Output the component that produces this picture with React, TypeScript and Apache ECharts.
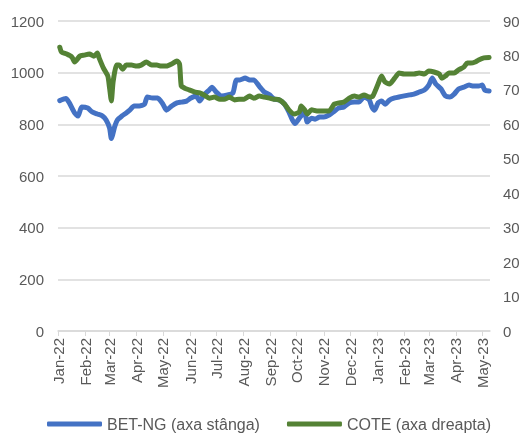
import React, { useEffect, useRef } from "react";
import * as echarts from "echarts";

const betDates = [
  "2022-01-03","2022-01-10","2022-01-14","2022-01-20","2022-01-24","2022-01-28","2022-02-04","2022-02-09","2022-02-15","2022-02-21","2022-02-25",
  "2022-03-01","2022-03-03","2022-03-07","2022-03-10","2022-03-15","2022-03-20","2022-03-24","2022-03-29","2022-04-04","2022-04-10","2022-04-13",
  "2022-04-19","2022-04-25","2022-05-01","2022-05-05","2022-05-11","2022-05-17","2022-05-22","2022-05-28","2022-06-02","2022-06-08","2022-06-12",
  "2022-06-17","2022-06-23","2022-06-26","2022-07-01","2022-07-07","2022-07-14","2022-07-20","2022-07-24","2022-07-28","2022-08-03","2022-08-08",
  "2022-08-13","2022-08-19","2022-08-25","2022-08-31","2022-09-05","2022-09-11","2022-09-17","2022-09-22","2022-09-26","2022-09-29","2022-10-04",
  "2022-10-10","2022-10-13","2022-10-18","2022-10-22","2022-10-27","2022-11-01","2022-11-07","2022-11-13","2022-11-18","2022-11-24","2022-11-30",
  "2022-12-06","2022-12-11","2022-12-17","2022-12-23","2022-12-26","2022-12-29","2023-01-02","2023-01-06","2023-01-10","2023-01-15","2023-01-21",
  "2023-01-26","2023-02-01","2023-02-07","2023-02-12","2023-02-18","2023-02-24","2023-03-01","2023-03-05","2023-03-09","2023-03-15","2023-03-20",
  "2023-03-25","2023-03-30","2023-04-04","2023-04-10","2023-04-16","2023-04-21","2023-04-27","2023-05-01","2023-05-04","2023-05-09"
];
const betNg = [
  892, 900, 883, 844, 832, 867, 863, 848, 840, 832, 817,
  786, 745, 793, 817, 832, 844, 855, 871, 871, 878, 906,
  902, 902, 878, 855, 871, 883, 886, 890, 902, 910, 890,
  914, 933, 944, 925, 910, 914, 921, 972, 972, 979, 972,
  972, 948, 925, 914, 898, 894, 878, 848, 817, 803, 824,
  848, 809, 824, 820, 828, 828, 836, 851, 863, 867, 883,
  886, 886, 906, 894, 867, 855, 883, 890, 878, 894, 902,
  906, 910, 914, 917, 925, 933, 952, 979, 956, 937, 910,
  906, 917, 937, 944, 952, 948, 948, 952, 933, 929
];

const coteDates = [
  "2022-01-03","2022-01-05","2022-01-11","2022-01-17","2022-01-20","2022-01-26","2022-01-31","2022-02-06","2022-02-11","2022-02-15","2022-02-17",
  "2022-02-22","2022-02-27","2022-03-01","2022-03-03","2022-03-05","2022-03-09","2022-03-12","2022-03-16","2022-03-20","2022-03-26","2022-04-01",
  "2022-04-06","2022-04-12","2022-04-18","2022-04-24","2022-04-29","2022-05-05","2022-05-11","2022-05-17","2022-05-20","2022-05-22","2022-05-26",
  "2022-05-31","2022-06-06","2022-06-12","2022-06-17","2022-06-23","2022-06-29","2022-07-05","2022-07-10","2022-07-16","2022-07-22","2022-07-27",
  "2022-08-02","2022-08-08","2022-08-13","2022-08-19","2022-08-25","2022-08-31","2022-09-05","2022-09-11","2022-09-17","2022-09-22","2022-09-28",
  "2022-10-04","2022-10-06","2022-10-10","2022-10-13","2022-10-18","2022-10-24","2022-11-01","2022-11-07","2022-11-13","2022-11-18","2022-11-24",
  "2022-11-30","2022-12-06","2022-12-11","2022-12-17","2022-12-23","2022-12-27","2023-01-02","2023-01-06","2023-01-10","2023-01-15","2023-01-21",
  "2023-01-26","2023-02-01","2023-02-07","2023-02-12","2023-02-18","2023-02-24","2023-03-01","2023-03-07","2023-03-13","2023-03-16","2023-03-20",
  "2023-03-24","2023-03-30","2023-04-04","2023-04-10","2023-04-14","2023-04-18","2023-04-23","2023-04-27","2023-05-03","2023-05-09"
];
const cote = [
  82.4, 81.0, 80.4, 79.5, 78.1, 79.8, 80.1, 80.4, 79.8, 80.7, 79.3,
  76.3, 74.0, 70.5, 66.8, 72.3, 77.2, 77.2, 76.0, 77.2, 77.2, 76.9,
  77.2, 78.1, 77.2, 77.2, 76.9, 76.9, 77.5, 78.4, 77.5, 71.1, 70.5,
  70.0, 69.4, 69.1, 68.5, 67.6, 67.9, 67.3, 67.3, 67.9, 67.1, 67.3,
  67.3, 68.2, 67.6, 68.2, 67.9, 67.6, 67.3, 67.1, 65.9, 64.2, 63.0,
  63.6, 65.3, 64.2, 63.0, 64.2, 63.9, 63.9, 63.9, 65.9, 66.2, 66.5,
  67.6, 68.2, 67.9, 68.5, 67.9, 68.2, 71.7, 74.0, 72.3, 71.7, 73.4,
  74.9, 74.6, 74.6, 74.6, 74.9, 74.6, 75.5, 75.2, 74.6, 73.4, 74.0,
  74.9, 74.9, 75.8, 76.6, 77.8, 77.8, 78.1, 78.7, 79.3, 79.4
];

const monthTicks = [
  "2022-01-01","2022-02-01","2022-03-01","2022-04-01","2022-05-01","2022-06-01","2022-07-01","2022-08-01","2022-09-01",
  "2022-10-01","2022-11-01","2022-12-01","2023-01-01","2023-02-01","2023-03-01","2023-04-01","2023-05-01"
];
const monthNames = ["Jan","Feb","Mar","Apr","May","Jun","Jul","Aug","Sep","Oct","Nov","Dec"];
const seriesNames = ["BET-NG (axa stânga)", "COTE (axa dreapta)"];
const axisStart = "2022-01-01";
const axisEnd = "2023-05-10";

const FONT = "Liberation Sans, Arial, sans-serif";
const GREY = "#595959";
const ts = (d: string) => Date.UTC(+d.slice(0, 4), +d.slice(5, 7) - 1, +d.slice(8, 10));

export default function App() {
  const ref = useRef<HTMLDivElement>(null);
  useEffect(() => {
    if (!ref.current) return;
    const chart = echarts.init(ref.current, null, { renderer: "svg" });
    const tickTimes = monthTicks.map(ts);
    chart.setOption({
      animation: false,
      textStyle: { fontFamily: FONT },
      grid: { left: 58, right: 33, top: 21, bottom: 104, containLabel: false },
      legend: {
        left: 47,
        top: 416,
        padding: 0,
        itemWidth: 55,
        itemHeight: 5,
        itemGap: 27,
        icon: "roundRect",
        textStyle: { fontFamily: FONT, fontSize: 16, color: GREY },
        data: seriesNames,
      },
      xAxis: {
        type: "value",
        min: ts(axisStart),
        max: ts(axisEnd),
        axisLine: { show: true, lineStyle: { color: "#d9d9d9", width: 1.5 } },
        axisTick: { show: true, customValues: tickTimes, length: 5, lineStyle: { color: "#d9d9d9" } },
        splitLine: { show: false },
        axisLabel: {
          customValues: tickTimes,
          rotate: 90,
          margin: 7,
          fontSize: 15,
          color: GREY,
          fontFamily: FONT,
          formatter: (v: number) => {
            const d = new Date(v);
            return monthNames[d.getUTCMonth()] + "-" + String(d.getUTCFullYear()).slice(2);
          },
        },
      },
      yAxis: [
        {
          type: "value",
          min: 0,
          max: 1200,
          interval: 200,
          axisLine: { show: false },
          axisTick: { show: false },
          splitLine: { lineStyle: { color: "#d9d9d9", width: 1.5 } },
          axisLabel: { fontSize: 15, color: GREY, margin: 14, fontFamily: FONT, formatter: (v: number) => String(v) },
        },
        {
          type: "value",
          min: 0,
          max: 90,
          interval: 10,
          position: "right",
          axisLine: { show: false },
          axisTick: { show: false },
          splitLine: { show: false },
          axisLabel: { fontSize: 15, color: GREY, margin: 13, fontFamily: FONT },
        },
      ],
      series: [
        {
          name: seriesNames[0],
          type: "line",
          yAxisIndex: 0,
          showSymbol: false,
          symbol: "none",
          smooth: 0.2,
          lineStyle: { color: "#4472C4", width: 5, cap: "round", join: "round" },
          itemStyle: { color: "#4472C4" },
          data: betDates.map((d, i) => [ts(d), betNg[i]]),
          z: 2,
        },
        {
          name: seriesNames[1],
          type: "line",
          yAxisIndex: 1,
          showSymbol: false,
          symbol: "none",
          smooth: 0.2,
          lineStyle: { color: "#548235", width: 5, cap: "round", join: "round" },
          itemStyle: { color: "#548235" },
          data: coteDates.map((d, i) => [ts(d), cote[i]]),
          z: 3,
        },
      ],
    });
    return () => chart.dispose();
  }, []);
  return <div ref={ref} style={{ position: "fixed", left: 0, top: 0, width: 523, height: 435 }} />;
}
